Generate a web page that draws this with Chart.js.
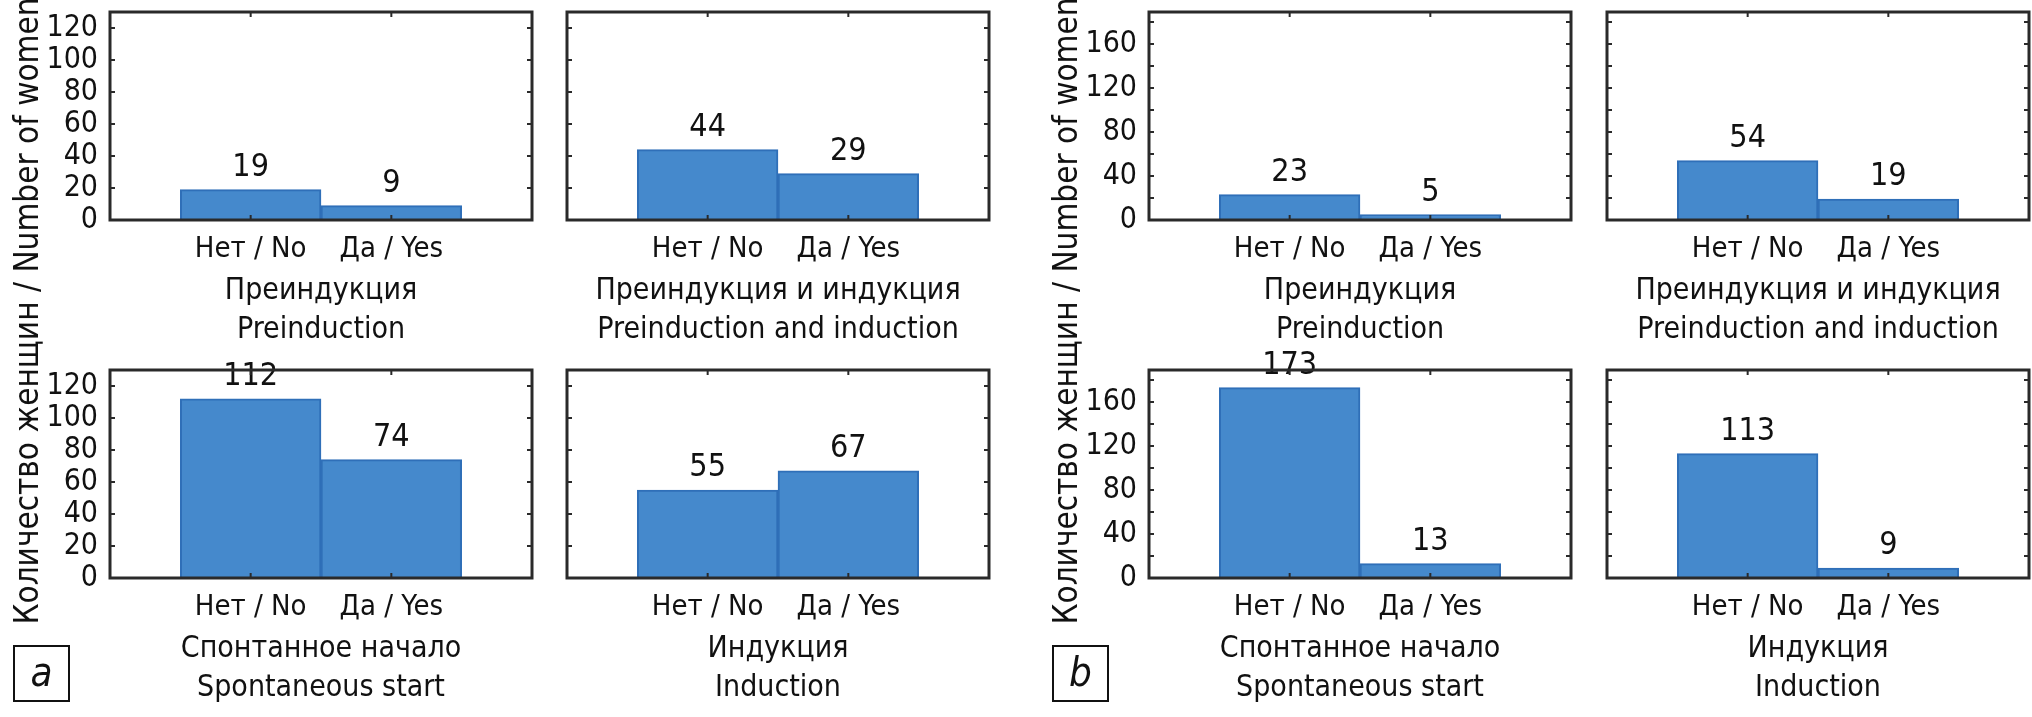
<!DOCTYPE html>
<html>
<head>
<meta charset="utf-8">
<script src="https://cdn.jsdelivr.net/npm/chart.js@4"></script>
<style>
  body { margin: 0; background: #fff; }
  #page { position: relative; width: 2032px; height: 717px; overflow: hidden; font-family: 'Liberation Sans Narrow', 'DejaVu Sans Condensed', sans-serif; }
  canvas { position: absolute; }
  .ytitle { position: absolute; width: 700px; text-align: center; font-size: 33px; line-height: 40px; color: #111; transform: rotate(-90deg); transform-origin: center center; white-space: nowrap; }
  .tag { position: absolute; width: 53px; height: 53px; border: 2px solid #111; font-style: italic; font-size: 40px; line-height: 50px; text-align: center; color: #111; }
</style>
</head>
<body>
<div id="page"></div>
<script>
"use strict";
// categories / titles
var categories = ['Нет / No', 'Да / Yes'];
var panelTitles = [
    ['Преиндукция', 'Preinduction'],
    ['Преиндукция и индукция', 'Preinduction and induction'],
    ['Спонтанное начало', 'Spontaneous start'],
    ['Индукция', 'Induction']
];
var yTitle = 'Количество женщин / Number of women';

// group a
var aPreinduction = [19, 9];
var aPreAndInduction = [44, 29];
var aSpontaneous = [112, 74];
var aInduction = [55, 67];
var aMax = 130, aLabelStep = 20, aTickStep = 20;

// group b
var bPreinduction = [23, 5];
var bPreAndInduction = [54, 19];
var bSpontaneous = [173, 13];
var bInduction = [113, 9];
var bMax = 189, bLabelStep = 40, bTickStep = 20;

var FONT = "'Liberation Sans Narrow', 'DejaVu Sans Condensed', sans-serif";
var FRAME_W = 422, FRAME_H = 208;
var YW = 80, PT = 34, XH = 130, PR = 12;

var page = document.getElementById('page');

// frame, inward ticks and value labels
var framePlugin = {
    id: 'frame',
    afterDatasetsDraw: function (chart) {
        var ctx = chart.ctx;
        var meta = chart.getDatasetMeta(0);
        ctx.save();
        ctx.fillStyle = '#111';
        ctx.font = '32px ' + FONT;
        ctx.textAlign = 'center';
        ctx.textBaseline = 'bottom';
        meta.data.forEach(function (el, i) {
            var v = chart.data.datasets[0].data[i];
            if (v === null) return;
            ctx.fillText(String(v), el.x, el.y - 6);
        });
        ctx.restore();
    },
    afterDraw: function (chart) {
        var ctx = chart.ctx, a = chart.chartArea;
        var xs = chart.scales.x, ys = chart.scales.y;
        ctx.save();
        ctx.strokeStyle = '#2a2a2a';
        ctx.lineWidth = 2;
        ys.ticks.forEach(function (t) {
            var y = ys.getPixelForValue(t.value);
            ctx.beginPath();
            ctx.moveTo(a.left, y); ctx.lineTo(a.left + 5, y);
            ctx.moveTo(a.right, y); ctx.lineTo(a.right - 5, y);
            ctx.stroke();
        });
        [1, 2].forEach(function (i) {
            var x = xs.getPixelForValue(i);
            ctx.beginPath();
            ctx.moveTo(x, a.top); ctx.lineTo(x, a.top + 5);
            ctx.moveTo(x, a.bottom); ctx.lineTo(x, a.bottom - 5);
            ctx.stroke();
        });
        ctx.lineWidth = 3;
        ctx.strokeRect(a.left, a.top, a.right - a.left, a.bottom - a.top);
        ctx.restore();
    }
};

function makePanel(frameX, frameY, values, title, yMax, labelStep, tickStep, showY) {
    var cv = document.createElement('canvas');
    var w = YW + FRAME_W + PR, h = PT + FRAME_H + XH;
    cv.width = w; cv.height = h;
    cv.style.left = (frameX - YW) + 'px';
    cv.style.top = (frameY - PT) + 'px';
    cv.style.width = w + 'px'; cv.style.height = h + 'px';
    page.appendChild(cv);
    var labels = [''].concat(categories, ['']);
    new Chart(cv, {
        type: 'bar',
        data: {
            labels: labels,
            datasets: [{
                data: [null].concat(values, [null]),
                backgroundColor: '#4589cc',
                borderColor: '#2f6fb8',
                borderWidth: 2,
                barPercentage: 1,
                categoryPercentage: 1
            }]
        },
        options: {
            responsive: false,
            animation: false,
            devicePixelRatio: 1,
            layout: { padding: { top: PT, right: PR, left: 0, bottom: 0 } },
            plugins: { legend: { display: false }, tooltip: { enabled: false } },
            scales: {
                x: {
                    offset: false,
                    grid: { display: false, drawTicks: false },
                    border: { display: false },
                    ticks: { color: '#111', font: { family: FONT, size: 29 }, padding: 12, maxRotation: 0, autoSkip: false },
                    title: { display: true, text: title, color: '#111', font: { family: FONT, size: 30, lineHeight: 1.3 }, padding: 0 },
                    afterFit: function (s) { s.height = XH; }
                },
                y: {
                    min: 0, max: yMax,
                    grid: { display: false, drawTicks: false },
                    border: { display: false },
                    ticks: {
                        stepSize: tickStep, includeBounds: false, autoSkip: false, color: '#111',
                        font: { family: FONT, size: 30 }, padding: 12,
                        callback: function (v) { return showY && v % labelStep === 0 ? v : ''; }
                    },
                    afterFit: function (s) { s.width = YW; }
                }
            }
        },
        plugins: [framePlugin]
    });
}

function addText(cls, text, x, y) {
    var d = document.createElement('div');
    d.className = cls;
    d.textContent = text;
    d.style.left = x + 'px';
    d.style.top = y + 'px';
    page.appendChild(d);
}

// a
makePanel(110, 12, aPreinduction, panelTitles[0], aMax, aLabelStep, aTickStep, true);
makePanel(567, 12, aPreAndInduction, panelTitles[1], aMax, aLabelStep, aTickStep, false);
makePanel(110, 370, aSpontaneous, panelTitles[2], aMax, aLabelStep, aTickStep, true);
makePanel(567, 370, aInduction, panelTitles[3], aMax, aLabelStep, aTickStep, false);
// b
makePanel(1149, 12, bPreinduction, panelTitles[0], bMax, bLabelStep, bTickStep, true);
makePanel(1607, 12, bPreAndInduction, panelTitles[1], bMax, bLabelStep, bTickStep, false);
makePanel(1149, 370, bSpontaneous, panelTitles[2], bMax, bLabelStep, bTickStep, true);
makePanel(1607, 370, bInduction, panelTitles[3], bMax, bLabelStep, bTickStep, false);

addText('ytitle', yTitle, 27 - 350, 311 - 20);
addText('ytitle', yTitle, 1066 - 350, 311 - 20);
addText('tag', 'a', 13, 645);
addText('tag', 'b', 1052, 645);
</script>
</body>
</html>
